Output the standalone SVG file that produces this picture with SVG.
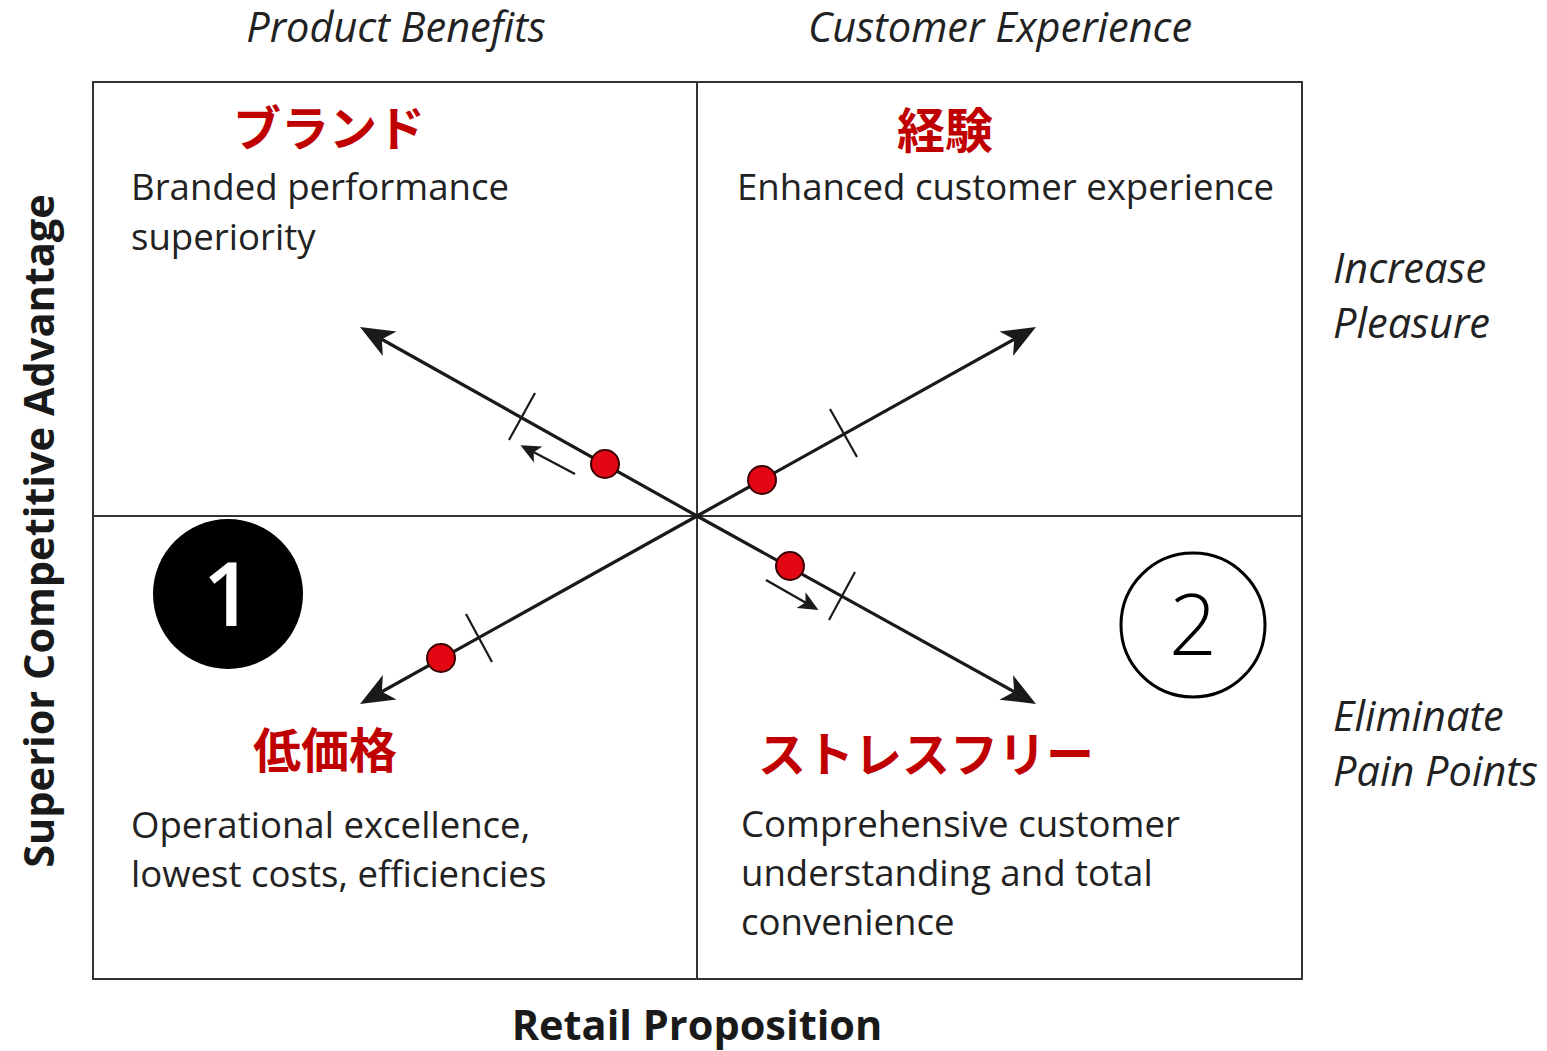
<svg xmlns="http://www.w3.org/2000/svg" width="1547" height="1051" viewBox="0 0 1547 1051">
<style>
.frame{fill:none;stroke:#333;stroke-width:2}
.div{stroke:#333;stroke-width:2}
.ax{stroke:#1a1a1a;stroke-width:3.2;fill:none}
.tick{stroke:#1a1a1a;stroke-width:2.2}
.sm{stroke:#1a1a1a;stroke-width:2.4;fill:none}
.dot{fill:#e30613;stroke:#3a0000;stroke-width:2}
.hdr{font-family:"Open Sans","Liberation Sans",sans-serif;font-style:italic;font-size:41.5px;fill:#222}
.body{font-family:"Open Sans","Liberation Sans",sans-serif;font-size:36.6px;fill:#222}
.jp{font-family:"Noto Sans CJK JP",sans-serif;font-weight:bold;font-size:48px;fill:#c00000}
.bold{font-family:"Open Sans","Liberation Sans",sans-serif;font-weight:bold;font-size:41.5px;fill:#1a1a1a}
</style>
<defs>
<marker id="big" markerUnits="userSpaceOnUse" markerWidth="60" markerHeight="60" refX="0" refY="0" orient="auto" overflow="visible" viewBox="-30 -30 60 60">
<path d="M8,0 L-26,-14 L-17,0 L-26,14 Z" fill="#1a1a1a"/>
</marker>
<marker id="small" markerUnits="userSpaceOnUse" markerWidth="40" markerHeight="40" refX="0" refY="0" orient="auto" overflow="visible" viewBox="-20 -20 40 40">
<path d="M4,0 L-16,-9 L-11,0 L-16,9 Z" fill="#1a1a1a"/>
</marker>
</defs>
<rect width="1547" height="1051" fill="#fff"/>

<g id="frame">
<rect class="frame" x="93" y="82" width="1209" height="897"/>
<line class="div" x1="697" y1="82" x2="697" y2="979"/>
<line class="div" x1="93" y1="516" x2="1302" y2="516"/>
</g>

<g id="connectors">
<line class="ax" x1="697" y1="516" x2="367" y2="331" marker-end="url(#big)"/>
<line class="ax" x1="697" y1="516" x2="1029" y2="331" marker-end="url(#big)"/>
<line class="ax" x1="697" y1="516" x2="367" y2="700" marker-end="url(#big)"/>
<line class="ax" x1="697" y1="516" x2="1029" y2="700" marker-end="url(#big)"/>
<line class="tick" x1="509" y1="440" x2="535" y2="393"/>
<line class="tick" x1="830" y1="409" x2="857" y2="457"/>
<line class="tick" x1="466" y1="614" x2="492" y2="662"/>
<line class="tick" x1="829" y1="620" x2="855" y2="572"/>
<line class="sm" x1="575" y1="474" x2="524" y2="447" marker-end="url(#small)"/>
<line class="sm" x1="766" y1="580" x2="815" y2="608" marker-end="url(#small)"/>
<circle class="dot" cx="605" cy="464" r="14"/>
<circle class="dot" cx="762" cy="480" r="14"/>
<circle class="dot" cx="441" cy="658" r="14"/>
<circle class="dot" cx="790" cy="566" r="14"/>
</g>

<g id="headers">
<text class="hdr" x="396" y="42" text-anchor="middle">Product Benefits</text>
<text class="hdr" x="1000" y="42" text-anchor="middle">Customer Experience</text>
<text class="hdr" x="1333" y="283">Increase</text>
<text class="hdr" x="1333" y="338">Pleasure</text>
<text class="hdr" x="1333" y="731">Eliminate</text>
<text class="hdr" x="1333" y="786">Pain Points</text>
</g>

<g id="q-brand">
<text class="jp" x="233" y="146">ブランド</text>
<text class="body" x="131" y="200">Branded performance</text>
<text class="body" x="131" y="250">superiority</text>
</g>

<g id="q-experience">
<text class="jp" x="945" y="148" text-anchor="middle">経験</text>
<text class="body" x="737" y="200">Enhanced customer experience</text>
</g>

<g id="q-lowprice">
<text class="jp" x="253" y="768">低価格</text>
<text class="body" x="131" y="838">Operational excellence,</text>
<text class="body" x="131" y="887">lowest costs, efficiencies</text>
</g>

<g id="q-stressfree">
<text class="jp" x="758" y="772">ストレスフリー</text>
<text class="body" x="741" y="837">Comprehensive customer</text>
<text class="body" x="741" y="886">understanding and total</text>
<text class="body" x="741" y="935">convenience</text>
</g>

<g id="badge1">
<circle cx="228" cy="594" r="75" fill="#000"/>
<text x="228" y="626" text-anchor="middle" font-family="Open Sans, Liberation Sans, sans-serif" font-weight="600" font-size="88" fill="#fff">1</text>
</g>

<g id="badge2">
<circle cx="1193" cy="625" r="72" fill="#fff" stroke="#000" stroke-width="3"/>
<text x="1193" y="655" text-anchor="middle" font-family="Open Sans, Liberation Sans, sans-serif" font-weight="300" font-size="84" fill="#000">2</text>
</g>

<g id="axis-labels">
<text class="bold" transform="translate(54,531) rotate(-90)" text-anchor="middle">Superior Competitive Advantage</text>
<text class="bold" x="697" y="1040" text-anchor="middle">Retail Proposition</text>
</g>
</svg>
